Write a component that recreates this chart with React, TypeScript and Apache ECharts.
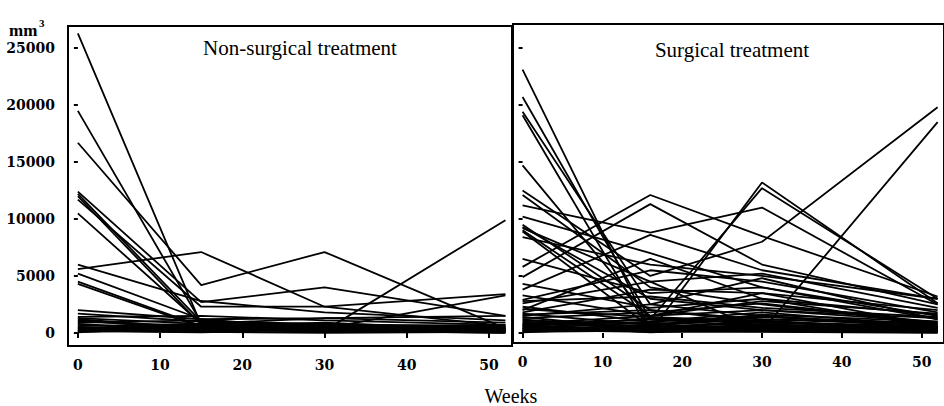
import React, { useEffect, useRef } from "react";
import * as echarts from "echarts";

// Weeks of measurement
const nonSurgicalWeeks = [0, 15, 30, 52];
const surgicalWeeks = [0, 16, 30, 52];

// Tick values
const xTicks = [0, 10, 20, 30, 40, 50];
const yTicks = [0, 5000, 10000, 15000, 20000, 25000];

// Volumes (mm³) per patient, non-surgical treatment
const nonSurgicalPatients = [
  [26300, 700, 300, 200],
  [19500, 900, 500, 300],
  [16700, 4200, 7100, 400],
  [12400, 2700, 4000, 1500],
  [12200, 1000, 700, 400],
  [12000, 700, 400, 200],
  [11700, 2300, 2300, 3400],
  [10500, 800, 1300, 900],
  [6000, 2800, 1800, 1100],
  [5600, 7100, 2300, 600],
  [5200, 1200, 400, 3300],
  [4500, 600, 200, 9900],
  [4300, 500, 300, 100],
  [2000, 1200, 1300, 1500],
  [1700, 1000, 800, 500],
  [1400, 1500, 1100, 700],
  [1200, 400, 600, 300],
  [900, 1100, 500, 300],
  [700, 300, 200, 100],
  [500, 200, 400, 500],
  [300, 500, 100, 200],
  [200, 100, 0, 100],
  [1000, 600, 900, 200],
  [600, 800, 300, 400],
  [100, 300, 200, 0],
  [800, 200, 700, 600],
  [400, 700, 500, 200],
  [1100, 300, 100, 300],
  [250, 400, 600, 700],
  [150, 50, 300, 400],
  [1300, 800, 200, 0],
  [50, 600, 400, 100],
  [450, 100, 800, 300],
];

// Volumes (mm³) per patient, surgical treatment
const surgicalPatients = [
  [23100, 300, 200, 100],
  [20700, 1200, 600, 300],
  [19400, 2500, 1500, 600],
  [19100, 100, 13200, 2600],
  [14700, 1200, 12700, 3000],
  [12500, 5000, 8000, 19800],
  [12100, 4000, 2500, 800],
  [11200, 8800, 11000, 2500],
  [10200, 7000, 4000, 1500],
  [9500, 2000, 1000, 400],
  [9300, 3000, 2000, 1000],
  [9000, 1500, 3500, 600],
  [8900, 500, 300, 200],
  [8400, 6000, 5000, 3000],
  [5800, 12100, 8500, 3200],
  [4900, 11300, 6000, 2500],
  [3800, 8600, 5500, 3000],
  [2900, 5500, 4500, 1800],
  [2000, 6500, 3000, 500],
  [2600, 4500, 200, 18500],
  [1800, 3800, 3500, 2000],
  [1500, 2500, 4800, 1200],
  [1300, 1800, 2600, 900],
  [1000, 600, 1500, 400],
  [800, 1500, 2000, 1300],
  [600, 300, 1200, 700],
  [400, 900, 600, 300],
  [200, 400, 300, 100],
  [1200, 200, 800, 200],
  [2300, 1000, 1800, 600],
  [700, 1200, 900, 500],
  [300, 700, 400, 200],
  [100, 200, 500, 300],
  [1600, 2000, 1200, 900],
  [500, 100, 100, 0],
  [2800, 3200, 2200, 1400],
  [3300, 1500, 2800, 1700],
  [9200, 4500, 5200, 2200],
  [6500, 3500, 4000, 1200],
  [4300, 2200, 3000, 1600],
  [900, 400, 1000, 200],
  [150, 600, 200, 500],
  [1100, 800, 300, 100],
  [250, 100, 700, 400],
  [650, 1000, 1400, 800],
  [1400, 300, 600, 300],
  [50, 500, 900, 600],
  [750, 50, 400, 100],
  [350, 1300, 1100, 200],
  [1700, 700, 1600, 1000],
  [2100, 1400, 1000, 500],
  [450, 200, 150, 50],
];

const panelTitles = ["Non-surgical treatment", "Surgical treatment"];
const yUnit = "mm";
const yUnitPower = "3";
const xName = "Weeks";

export default function App() {
  const ref = useRef<HTMLDivElement>(null);
  useEffect(() => {
    if (!ref.current) return;
    const chart = echarts.init(ref.current, undefined, { renderer: "svg" });
    const labelFont = {
      fontFamily: "DejaVu Serif",
      fontWeight: "bold" as const,
      fontSize: 14,
      color: "#000",
      formatter: (v: number) => String(v),
    };
    const makeX = (gridIndex: number) => ({
      type: "value",
      gridIndex,
      min: -1.2,
      max: 52.8,
      axisLine: { show: false },
      splitLine: { show: false },
      axisTick: {
        show: true,
        customValues: xTicks,
        length: 5,
        lineStyle: { color: "#000", width: 2 },
      },
      axisLabel: { ...labelFont, customValues: xTicks, margin: 12 },
    });
    const makeY = (gridIndex: number, min: number, max: number, showLabels: boolean) => ({
      type: "value",
      gridIndex,
      min,
      max,
      axisLine: { show: false },
      splitLine: { show: false },
      axisTick: {
        show: true,
        customValues: yTicks,
        length: 4,
        lineStyle: { color: "#000", width: 2 },
      },
      axisLabel: { ...labelFont, show: showLabels, customValues: yTicks, margin: 13 },
    });
    const lineSeries = (data: number[][], weeks: number[], idx: number) =>
      data.map((vals) => ({
        type: "line",
        xAxisIndex: idx,
        yAxisIndex: idx,
        data: weeks.map((w, i) => [w, vals[i]]),
        symbol: "none",
        silent: true,
        lineStyle: { color: "#000", width: 1.8 },
      }));
    chart.setOption({
      animation: false,
      backgroundColor: "#fff",
      grid: [
        { left: 68, top: 26, width: 444, height: 320, show: true, borderColor: "#000", borderWidth: 2, backgroundColor: "transparent" },
        { left: 513, top: 24, width: 442, height: 319, show: true, borderColor: "#000", borderWidth: 2, backgroundColor: "transparent" },
      ],
      xAxis: [makeX(0), makeX(1)],
      yAxis: [makeY(0, -1150, 26950, true), makeY(1, -880, 27100, false)],
      series: [
        ...lineSeries(nonSurgicalPatients, nonSurgicalWeeks, 0),
        ...lineSeries(surgicalPatients, surgicalWeeks, 1),
      ],
      graphic: [
        {
          type: "text",
          x: 300,
          y: 48,
          style: { text: panelTitles[0], font: "21px 'Liberation Serif'", fill: "#000", align: "center", verticalAlign: "middle" },
        },
        {
          type: "text",
          x: 732,
          y: 50,
          style: { text: panelTitles[1], font: "21px 'Liberation Serif'", fill: "#000", align: "center", verticalAlign: "middle" },
        },
        {
          type: "text",
          x: 9,
          y: 30,
          style: { text: yUnit, font: "bold 17px 'Liberation Serif'", fill: "#000", align: "left", verticalAlign: "middle" },
        },
        {
          type: "text",
          x: 39,
          y: 23,
          style: { text: yUnitPower, font: "bold 11px 'Liberation Serif'", fill: "#000", align: "left", verticalAlign: "middle" },
        },
        {
          type: "text",
          x: 511,
          y: 396,
          style: { text: xName, font: "20px 'Liberation Serif'", fill: "#000", align: "center", verticalAlign: "middle" },
        },
      ],
    });
    return () => chart.dispose();
  }, []);
  return (
    <div
      ref={ref}
      style={{ position: "absolute", left: 0, top: 0, width: 944, height: 406 }}
    />
  );
}
